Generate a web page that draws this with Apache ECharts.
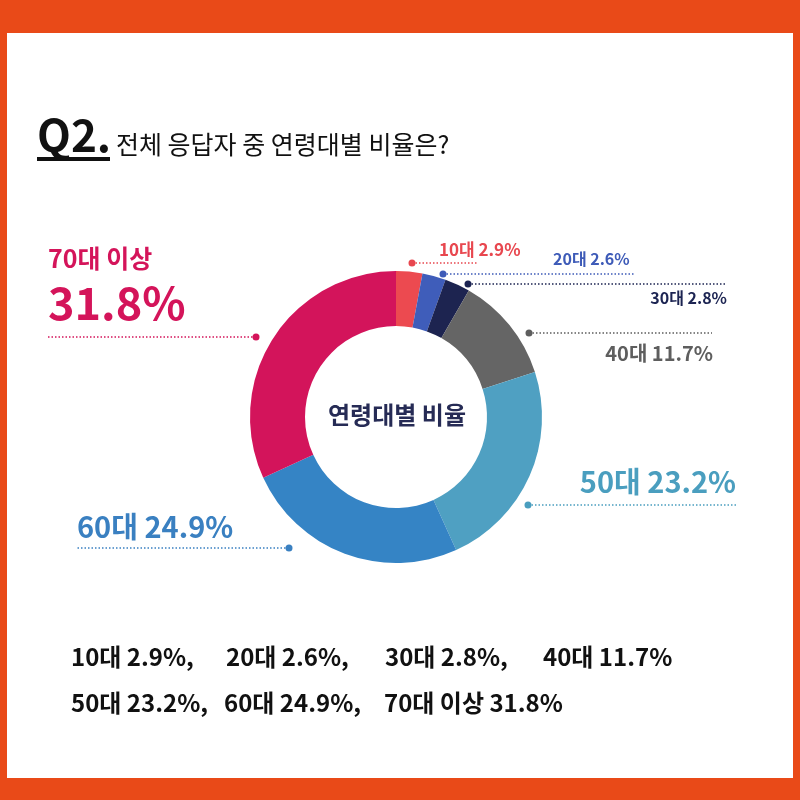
<!DOCTYPE html>
<html>
<head>
<meta charset="utf-8">
<script src="https://cdn.jsdelivr.net/npm/echarts@6/dist/echarts.min.js"></script>
<style>
html, body { margin: 0; padding: 0; background: #fff; }
#main { width: 800px; height: 800px; }
</style>
</head>
<body>
<div id="main"></div>
<script>
// 데이터
var ageGroups = ['10대', '20대', '30대', '40대', '50대', '60대', '70대 이상'];
var shares = [2.9, 2.6, 2.8, 11.7, 23.2, 24.9, 31.8];
var sliceColors = ['#EC4A50', '#3F5DBA', '#1D2450', '#656565', '#4FA0C2', '#3584C5', '#D3145B'];
var labelColors = ['#E8474F', '#3E5BB8', '#1C2452', '#5E5E5E', '#4A9EBF', '#3A80C1', '#D4145A'];

var titleQ = 'Q2.';
var titleText = '전체 응답자 중 연령대별 비율은?';
var centerText = '연령대별 비율';

// 콜아웃 위치 (점, 선 끝, 글자)
var callouts = [
	{ dot: [412, 263], lineEnd: 478, text: [439, 250], align: 'left', size: 17 },
	{ dot: [443, 274], lineEnd: 635, text: [553, 259], align: 'left', size: 16 },
	{ dot: [468, 284], lineEnd: 725, text: [727, 298], align: 'right', size: 16 },
	{ dot: [529, 333], lineEnd: 712, text: [713, 353], align: 'right', size: 20 },
	{ dot: [528, 505], lineEnd: 736, text: [736, 482], align: 'right', size: 29 },
	{ dot: [289, 548], lineEnd: 77, text: [77, 527], align: 'left', size: 29 },
	{ dot: [256, 337], lineEnd: 47, text: [48, 258], align: 'left', size: 25 }
];
// 하단 요약 위치
var summaryPos = [[71, 657], [226, 657], [385, 657], [543, 657], [71, 703], [224, 703], [384, 703]];

var FONT = '"Noto Sans CJK KR", "Noto Sans", sans-serif';

var graphics = [
	{ type: 'rect', z: -1, shape: { x: 7, y: 33, width: 786, height: 745 }, style: { fill: '#fff' } },
	{ type: 'text', x: 37, y: 135, style: { text: titleQ, fill: '#111', fontSize: 44, fontWeight: 'bold', fontFamily: FONT, align: 'left', verticalAlign: 'middle' } },
	{ type: 'rect', shape: { x: 37, y: 157, width: 73, height: 4 }, style: { fill: '#111' } },
	{ type: 'text', x: 116, y: 144, style: { text: titleText, fill: '#111', fontSize: 25, fontFamily: FONT, align: 'left', verticalAlign: 'middle' } },
	{ type: 'text', x: 397, y: 415, style: { text: centerText, fill: '#262B55', fontSize: 24, fontWeight: 'bold', fontFamily: FONT, align: 'center', verticalAlign: 'middle' } }
];

for (var i = 0; i < ageGroups.length; i++) {
	var c = callouts[i];
	graphics.push({
		type: 'line',
		shape: { x1: c.dot[0], y1: c.dot[1], x2: c.lineEnd, y2: c.dot[1] },
		style: { stroke: labelColors[i], lineWidth: 1.3, lineDash: [1.5, 2] }
	});
	graphics.push({
		type: 'circle',
		shape: { cx: c.dot[0], cy: c.dot[1], r: 3.5 },
		style: { fill: labelColors[i] }
	});
	if (i === ageGroups.length - 1) {
		graphics.push({ type: 'text', x: c.text[0], y: c.text[1], style: { text: ageGroups[i], fill: labelColors[i], fontSize: c.size, fontWeight: 'bold', fontFamily: FONT, align: c.align, verticalAlign: 'middle' } });
		graphics.push({ type: 'text', x: c.text[0], y: c.text[1] + 45, style: { text: shares[i] + '%', fill: labelColors[i], fontSize: 45, fontWeight: 'bold', fontFamily: FONT, align: c.align, verticalAlign: 'middle' } });
	} else {
		graphics.push({ type: 'text', x: c.text[0], y: c.text[1], style: { text: ageGroups[i] + ' ' + shares[i] + '%', fill: labelColors[i], fontSize: c.size, fontWeight: 'bold', fontFamily: FONT, align: c.align, verticalAlign: 'middle' } });
	}
	var sep = (i === 3 || i === ageGroups.length - 1) ? '' : ',';
	graphics.push({
		type: 'text', x: summaryPos[i][0], y: summaryPos[i][1],
		style: { text: ageGroups[i] + ' ' + shares[i] + '%' + sep, fill: '#111', fontSize: 24, fontWeight: 'bold', fontFamily: FONT, align: 'left', verticalAlign: 'middle' }
	});
}

var myChart = echarts.init(document.getElementById('main'));
var option = {
	backgroundColor: '#E94A18',
	animation: false,
	graphic: graphics,
	series: [
		{
			name: '연령대별 비율',
			type: 'pie',
			center: [396, 417],
			radius: [91, 146],
			startAngle: 90,
			clockwise: true,
			silent: true,
			label: { show: false },
			labelLine: { show: false },
			itemStyle: { borderWidth: 0 },
			data: ageGroups.map(function (name, i) {
				return { name: name, value: shares[i], itemStyle: { color: sliceColors[i] } };
			})
		}
	]
};
myChart.setOption(option);

window.onresize = function () {
	myChart.resize();
};
</script>
</body>
</html>
